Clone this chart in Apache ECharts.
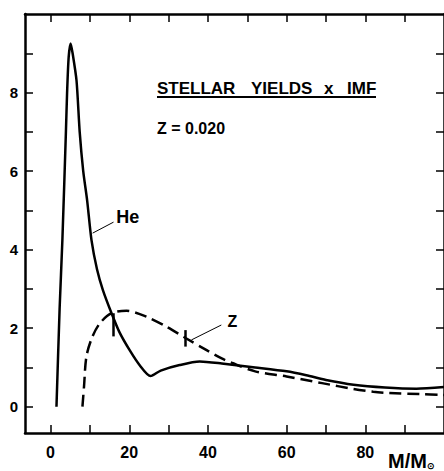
<!DOCTYPE html>
<html>
<head>
<meta charset="utf-8">
<script src="https://cdn.jsdelivr.net/npm/echarts@6/dist/echarts.min.js"></script>
<style>
  html, body { margin: 0; padding: 0; background: #fff; }
  #chart { width: 444px; height: 471px; }
</style>
</head>
<body>
<div id="chart"></div>
<script>
// He yield x IMF (solid curve)
var heMass  = [1.5, 2.3, 3.0, 3.9, 4.2, 4.6, 5.1, 5.6, 6.6, 7.4, 8.3, 9.3, 10.4, 11.8, 13.3, 15.5, 17.5, 20.1, 22.7, 25.4, 28, 32.8, 37.9, 43.5, 52, 60, 65, 70, 77, 85, 93, 100];
var heYield = [0, 2.5, 4.24, 7.0, 8.0, 8.9, 9.25, 9.0, 8.3, 7.0, 6.0, 5.25, 4.24, 3.5, 2.97, 2.38, 1.9, 1.44, 1.05, 0.78, 0.92, 1.06, 1.15, 1.1, 1.0, 0.9, 0.8, 0.68, 0.56, 0.49, 0.46, 0.5];

// metals (Z) yield x IMF (dashed curve)
var zMass  = [8.1, 8.5, 9.1, 10.5, 12.5, 15.5, 19.3, 24.4, 29.4, 34.3, 40, 43.5, 46, 52, 60, 69, 77, 82, 86, 94, 100];
var zYield = [0, 0.51, 1.27, 1.75, 2.12, 2.38, 2.44, 2.29, 2.04, 1.75, 1.42, 1.23, 1.12, 0.9, 0.77, 0.6, 0.45, 0.38, 0.35, 0.32, 0.3];

var xTicks  = [0, 10, 20, 30, 40, 50, 60, 70, 80, 90];
var xLabels = [0, 20, 40, 60, 80];
var yTicks  = [0, 1, 2, 3, 4, 5, 6, 7, 8, 9];
var yLabels = [0, 2, 4, 6, 8];

var FONT = '"Liberation Sans", Arial, sans-serif';

function pairs(xs, ys) {
    return xs.map(function (x, i) { return [x, ys[i]]; });
}

var chart = echarts.init(document.getElementById('chart'), null, { renderer: 'svg' });

var axisLineStyle = { show: true, onZero: false, lineStyle: { color: '#000', width: 2.5 } };
var tickStyle = { lineStyle: { color: '#000', width: 1.5 } };

var option = {
    backgroundColor: '#fff',
    animation: false,
    grid: { left: 25, top: 14, right: 0, bottom: 38, containLabel: false },
    xAxis: [
        {
            type: 'value', position: 'bottom', min: -6.5, max: 100,
            axisLine: axisLineStyle,
            axisTick: Object.assign({ show: true, inside: true, length: 8, customValues: xTicks }, tickStyle),
            axisLabel: { show: true, customValues: xLabels, margin: 11, color: '#000', fontSize: 16, fontWeight: 'bold', fontFamily: FONT },
            splitLine: { show: false }
        },
        {
            type: 'value', position: 'top', min: -6.5, max: 100,
            axisLine: axisLineStyle,
            axisTick: Object.assign({ show: true, inside: true, length: 8, customValues: xTicks }, tickStyle),
            axisLabel: { show: false },
            splitLine: { show: false }
        }
    ],
    yAxis: [
        {
            type: 'value', position: 'left', min: -0.67, max: 10,
            axisLine: axisLineStyle,
            axisTick: Object.assign({ show: true, inside: true, length: 8, customValues: yTicks }, tickStyle),
            axisLabel: { show: true, customValues: yLabels, margin: 7, color: '#000', fontSize: 15, fontWeight: 'bold', fontFamily: FONT },
            splitLine: { show: false }
        },
        {
            type: 'value', position: 'right', min: -0.67, max: 10,
            axisLine: axisLineStyle,
            axisTick: Object.assign({ show: true, inside: true, length: 8, customValues: yTicks }, tickStyle),
            axisLabel: { show: false },
            splitLine: { show: false }
        }
    ],
    series: [
        {
            name: 'He',
            type: 'line',
            data: pairs(heMass, heYield),
            smooth: 0.25,
            showSymbol: false,
            lineStyle: { color: '#000', width: 2.5 },
            markLine: {
                silent: true, symbol: 'none', label: { show: false },
                data: [
                    [{ coord: [10.7, 4.42], lineStyle: { width: 1, type: 'solid', color: '#000' } }, { coord: [16.0, 4.7] }],
                    [{ coord: [15.9, 1.79], lineStyle: { width: 2.5, type: 'solid', color: '#000' } }, { coord: [15.9, 2.38] }]
                ]
            },
            markPoint: {
                silent: true, symbol: 'circle', symbolSize: 0,
                label: { show: true, formatter: 'He', color: '#000', fontSize: 18, fontWeight: 'bold', fontFamily: FONT, position: 'inside' },
                data: [{ coord: [19.6, 4.83] }]
            }
        },
        {
            name: 'Z',
            type: 'line',
            data: pairs(zMass, zYield),
            smooth: 0.3,
            showSymbol: false,
            lineStyle: { color: '#000', width: 2.5, type: [12, 6] },
            markLine: {
                silent: true, symbol: 'none', label: { show: false },
                data: [
                    [{ coord: [35.8, 1.70], lineStyle: { width: 1, type: 'solid', color: '#000' } }, { coord: [43.4, 2.08] }],
                    [{ coord: [34.3, 1.53], lineStyle: { width: 2.5, type: 'solid', color: '#000' } }, { coord: [34.3, 1.95] }]
                ]
            },
            markPoint: {
                silent: true, symbol: 'circle', symbolSize: 0,
                label: { show: true, formatter: 'Z', color: '#000', fontSize: 16, fontWeight: 'bold', fontFamily: FONT, position: 'inside' },
                data: [{ coord: [46.2, 2.16] }]
            }
        }
    ],
    graphic: [
        // title words placed one by one, the original has wide spacing
        { type: 'text', left: 157, top: 80, style: { text: 'STELLAR', fill: '#000', font: 'bold 17px ' + FONT } },
        { type: 'text', left: 251, top: 80, style: { text: 'YIELDS', fill: '#000', font: 'bold 17px ' + FONT } },
        { type: 'text', left: 324, top: 80, style: { text: 'x', fill: '#000', font: 'bold 17px ' + FONT } },
        { type: 'text', left: 347, top: 80, style: { text: 'IMF', fill: '#000', font: 'bold 17px ' + FONT } },
        {
            type: 'rect', left: 157, top: 96,
            shape: { width: 219, height: 2 },
            style: { fill: '#000' }
        },
        {
            type: 'text', left: 157, top: 120,
            style: { text: 'Z = 0.020', fill: '#000', font: 'bold 16px ' + FONT }
        },
        {
            type: 'text', left: 388, top: 451,
            style: {
                text: '{m|M/M}{s|\u2299}',
                rich: {
                    m: { fill: '#000', font: 'bold 20px ' + FONT },
                    s: { fill: '#000', font: 'bold 9px ' + FONT, padding: [10, 0, 0, 0] }
                }
            }
        }
    ]
};

chart.setOption(option);
</script>
</body>
</html>
